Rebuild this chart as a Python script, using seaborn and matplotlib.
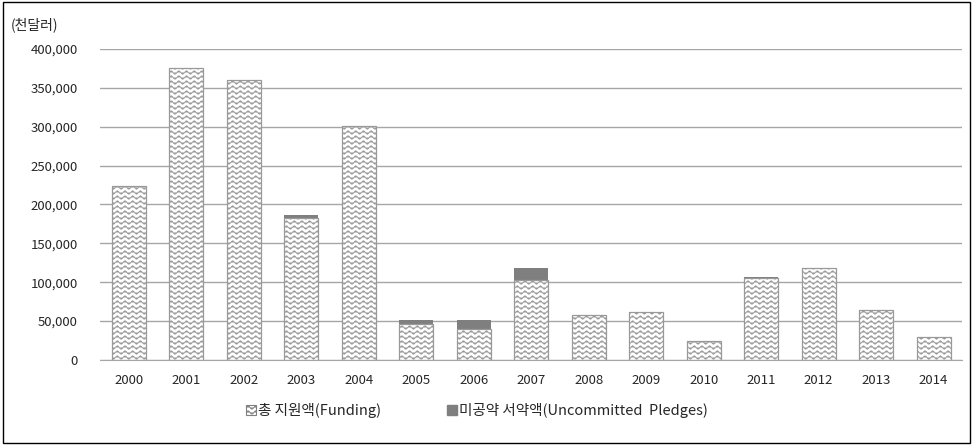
import numpy as np
import pandas as pd
import matplotlib
matplotlib.use("Agg")
import matplotlib.pyplot as plt
import matplotlib.hatch as mhatch
from matplotlib.path import Path
from matplotlib.patches import Patch
import seaborn as sns

# data (thousand dollars)
years = [str(y) for y in range(2000, 2015)]
funding = [224000, 376000, 360000, 182000, 301000, 46000, 39500, 103000,
           58000, 62000, 24000, 105000, 118000, 64000, 29000]
pledges = [0, 0, 0, 4000, 0, 5500, 12000, 15000,
           0, 0, 0, 1500, 0, 0, 0]

yticks = [0, 50000, 100000, 150000, 200000, 250000, 300000, 350000, 400000]


# wavy hatch ('~'), matplotlib has no built-in one
class WaveHatch(mhatch.HatchPatternBase):
    def __init__(self, hatch, density):
        self.num_lines = 20 if '~' in hatch else 0
        self.periods = 13
        self.per = 8
        self.pts = self.periods * self.per + 1
        self.num_vertices = self.num_lines * self.pts

    def set_vertices_and_codes(self, vertices, codes):
        xs = np.linspace(0, 1, self.pts)
        amp = 0.017
        k = 0
        for i in range(self.num_lines):
            y0 = (i + 0.5) / self.num_lines
            ys = y0 + amp * np.sin(2 * np.pi * self.periods * xs)
            vertices[k:k + self.pts, 0] = xs
            vertices[k:k + self.pts, 1] = ys
            codes[k] = Path.MOVETO
            codes[k + 1:k + self.pts] = Path.LINETO
            k += self.pts


mhatch._hatch_types.append(WaveHatch)

sns.set_style("white")
plt.rcParams['font.family'] = ['Noto Sans CJK KR', 'DejaVu Sans']
plt.rcParams['hatch.linewidth'] = 0.6

df = pd.DataFrame({"year": years, "funding": funding, "pledges": pledges})
df["total"] = df["funding"] + df["pledges"]

fig = plt.figure(figsize=(9.73, 4.45), dpi=100)
ax = fig.add_axes([0.103, 0.191, 0.886, 0.699])

grid_c = "#a6a6a6"
dark = "#7f7f7f"
hatch_c = "#999999"

sns.barplot(data=df, x="year", y="total", order=years, color=dark,
            saturation=1, width=0.59, errorbar=None, linewidth=0, ax=ax)
sns.barplot(data=df, x="year", y="funding", order=years, color="white",
            saturation=1, width=0.59, errorbar=None, ax=ax,
            edgecolor=hatch_c, linewidth=0.9, hatch="~")

ax.set_ylim(0, 400000)
ax.set_xlim(-0.5, len(years) - 0.5)
ax.set_yticks(yticks)
ax.set_yticklabels([f"{v:,}" for v in yticks])
ax.yaxis.grid(True, color=grid_c, linewidth=1)
ax.set_axisbelow(True)
for s in ["left", "right", "top"]:
    ax.spines[s].set_visible(False)
ax.spines["bottom"].set_color(grid_c)
ax.tick_params(axis="both", length=0, labelsize=9.5, colors="#262626")
ax.tick_params(axis="y", pad=16)
ax.tick_params(axis="x", pad=10)
ax.set_xlabel("")
ax.set_ylabel("")

fig.text(0.011, 0.945, "(천달러)", fontsize=10, color="#262626", va="center")

handles = [Patch(facecolor="white", edgecolor="#7f7f7f", hatch="~", linewidth=0.8),
           Patch(facecolor=dark, edgecolor=dark)]
labels = ["총 지원액(Funding)", "미공약 서약액(Uncommitted  Pledges)"]
fig.legend(handles, labels, loc="center", bbox_to_anchor=(0.49, 0.078),
           ncol=2, frameon=False, fontsize=10.5, handlelength=0.7,
           handleheight=0.7, handletextpad=0.15, columnspacing=4.5)

# figure border
fig.patches.append(plt.Rectangle((0.003, 0.005), 0.994, 0.99, transform=fig.transFigure,
                                 fill=False, edgecolor="black", linewidth=1))

fig.savefig("out.png", dpi=100)
